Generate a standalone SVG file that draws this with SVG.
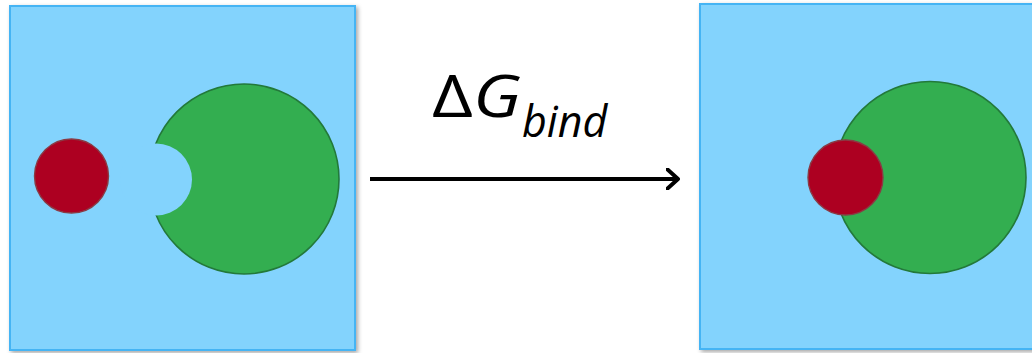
<svg xmlns="http://www.w3.org/2000/svg" width="1032" height="353" viewBox="0 0 1032 353">
  <defs>
    <filter id="shadow" x="-5%" y="-5%" width="115%" height="115%">
      <feDropShadow dx="2" dy="2" stdDeviation="2" flood-color="#000" flood-opacity="0.35"/>
    </filter>
    <marker id="chevron" viewBox="0 0 14 22" refX="12" refY="11" markerWidth="14" markerHeight="22" markerUnits="userSpaceOnUse" orient="auto">
      <path d="M1,1 L12,11 L1,21" fill="none" stroke="#000" stroke-width="4" stroke-linecap="round" stroke-linejoin="round"/>
    </marker>
  </defs>
  <style>
    .box { fill: #83d3fd; stroke: #45b4f4; stroke-width: 2; }
    .protein { fill: #33ae50; stroke: #23793a; stroke-width: 1.6; }
    .ligand { fill: #ad0021; stroke: #8a3a44; stroke-width: 1.4; }
    .pocket { fill: #83d3fd; stroke: none; }
    .label { font-family: "Open Sans", "Liberation Sans", sans-serif; fill: #000; }
  </style>
  <rect width="1032" height="353" fill="#ffffff"/>

  <!-- unbound state -->
  <g id="unbound">
    <rect class="box" x="10" y="6" width="345" height="344" filter="url(#shadow)"/>
    <circle class="protein" cx="244" cy="179" r="95"/>
    <circle class="pocket" cx="156" cy="179.5" r="36"/>
    <circle class="ligand" cx="71.5" cy="176" r="37"/>
  </g>

  <!-- bound complex -->
  <g id="bound">
    <rect class="box" x="700" y="4" width="340" height="345" filter="url(#shadow)"/>
    <circle class="protein" cx="930" cy="177.5" r="96"/>
    <circle class="ligand" cx="845.5" cy="177.5" r="37.5"/>
  </g>

  <!-- binding transition -->
  <g id="connectors">
    <line x1="370" y1="179" x2="678" y2="179" stroke="#000" stroke-width="4" marker-end="url(#chevron)"/>
  </g>
  <g id="label">
    <text class="label" transform="translate(432,117) scale(1.22,1)" font-size="58">Δ<tspan font-style="italic">G</tspan></text>
    <text class="label" x="522" y="137" font-style="italic" font-size="43">bind</text>
  </g>
</svg>
